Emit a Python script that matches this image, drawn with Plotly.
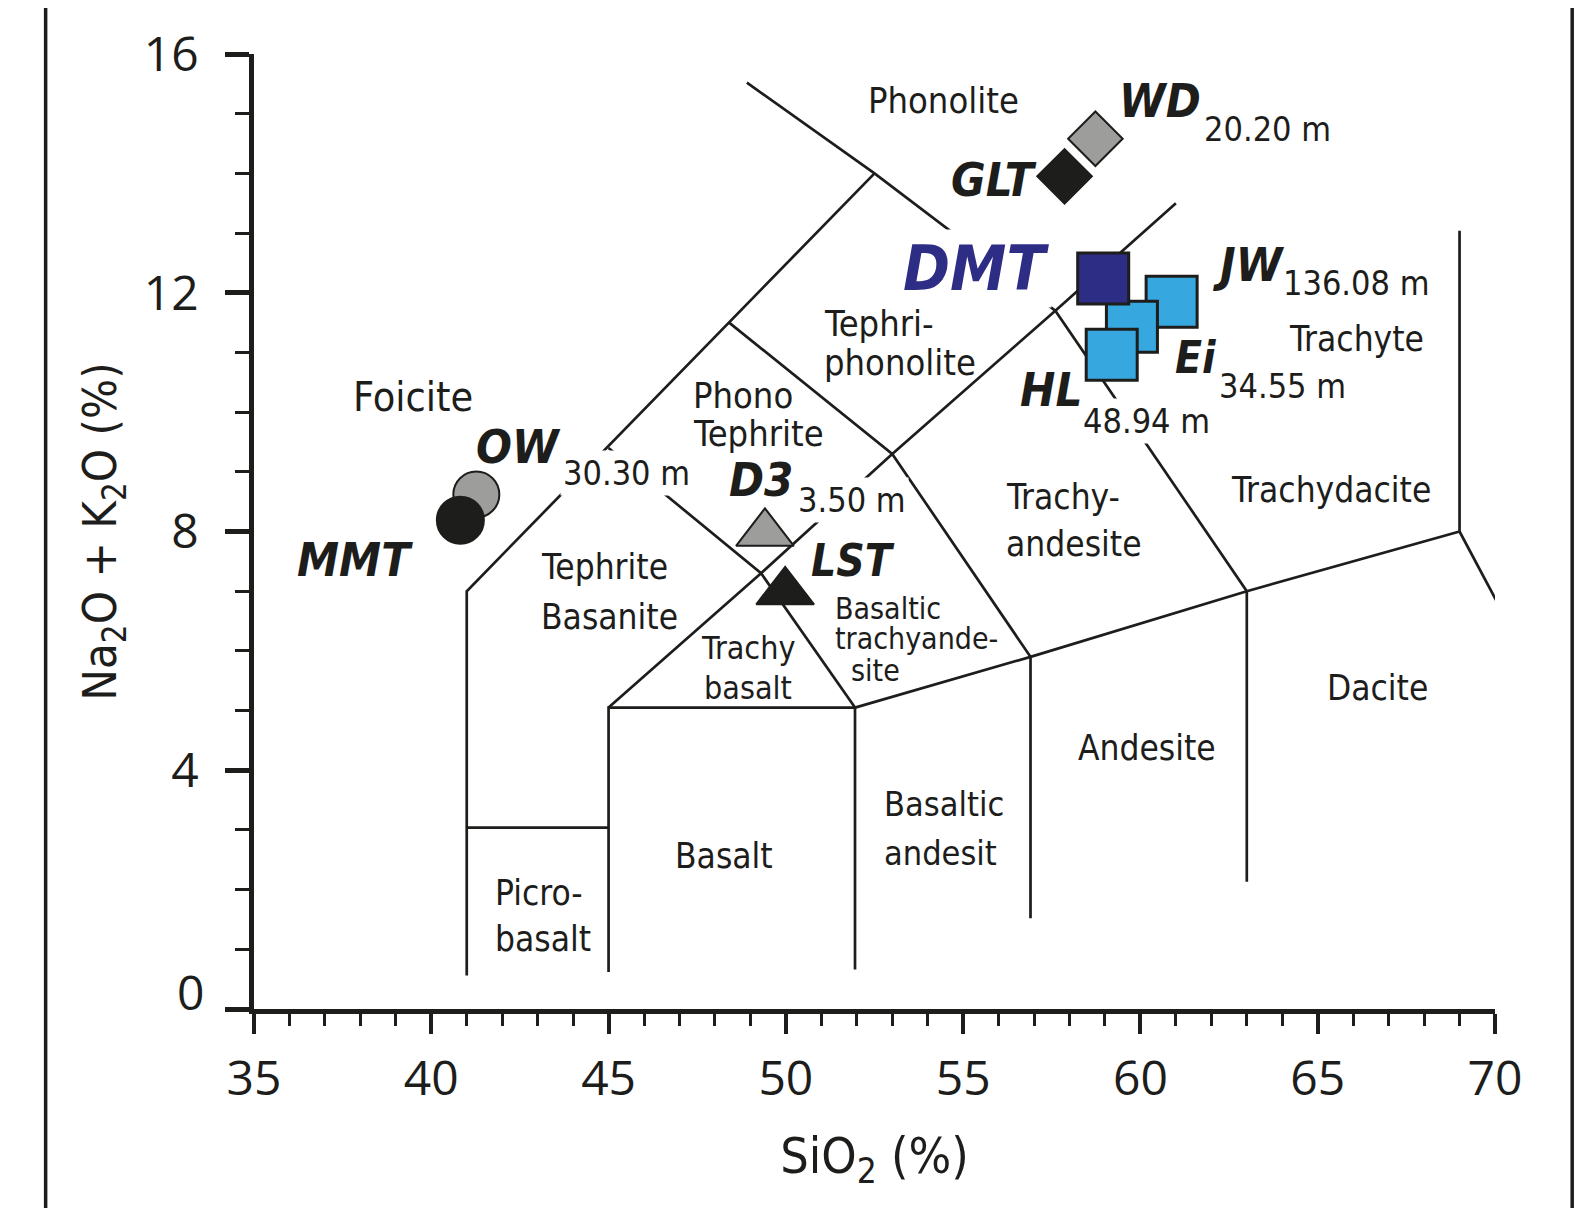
import plotly.graph_objects as go

# ---------------- data ----------------
samples = ["OW", "MMT", "D3", "LST", "WD", "GLT", "JW", "Ei", "HL", "DMT"]
sio2 = [41.27, 40.82, 49.41, 49.98, 58.73, 57.86, 60.88, 59.76, 59.19, 58.95]
alkali = [8.62, 8.19, 7.97, 6.99, 14.58, 13.95, 11.85, 11.43, 10.96, 12.24]

depth_samples = ["OW", "D3", "WD", "JW", "Ei", "HL"]
depth_labels = ["30.30 m", "3.50 m", "20.20 m", "136.08 m", "34.55 m", "48.94 m"]

# TAS classification boundaries (SiO2, Na2O+K2O), None separates polylines
bnd_x = [41, 41, 52.5, None,
         48.9, 52.5, 57.6, 63, 63, None,
         41, 45, None,
         45, 45, 51.95, None,
         51.95, 51.95, None,
         45, 49.3, 53, 57.6, 61, None,
         45, 49.3, 51.95, None,
         48.4, 53, 56.9, 56.9, None,
         51.95, 56.9, 63, 69, 69, None,
         69, 70.03]
bnd_y = [0.56, 7.0, 14.0, None,
         15.52, 14.0, 11.7, 7.0, 2.13, None,
         3.04, 3.04, None,
         0.62, 5.05, 5.05, None,
         0.66, 5.05, None,
         5.05, 7.3, 9.3, 11.7, 13.5, None,
         9.4, 7.3, 5.05, None,
         11.5, 9.3, 5.9, 1.52, None,
         5.05, 5.9, 7.0, 8.0, 13.04, None,
         8.0, 6.85]

region_names = ["Phonolite", "Tephri-", "phonolite", "Phono", "Tephrite", "Foicite",
                "Tephrite", "Basanite", "Trachy", "basalt", "Basaltic", "trachyande-",
                "site", "Trachy-", "andesite", "Trachyte", "Trachydacite", "Dacite",
                "Andesite", "Basaltic", "andesit", "Basalt", "Picro-", "basalt"]

x_ticks = [35, 40, 45, 50, 55, 60, 65, 70]
y_ticks = [0, 4, 8, 12, 16]

# ---------------- styles / layout ----------------
INK = "#1d1d1b"
NAVY = "#2e2d86"
LIGHTBLUE = "#36a8df"
GREY = "#9d9d9c"
NARROW = "DejaVu Sans Condensed, Liberation Sans Narrow, sans-serif"
REG = "Open Sans, Liberation Sans, sans-serif"

marker_style = {
    "OW": dict(symbol="circle", size=46, color=GREY, line=dict(color=INK, width=2)),
    "MMT": dict(symbol="circle", size=47, color=INK, line=dict(color=INK, width=2)),
    "D3": dict(symbol="triangle-up", size=50, color=GREY, line=dict(color=INK, width=2)),
    "LST": dict(symbol="triangle-up", size=50, color=INK, line=dict(color=INK, width=2)),
    "WD": dict(symbol="diamond", size=42, color=GREY, line=dict(color=INK, width=2)),
    "GLT": dict(symbol="diamond", size=42, color=INK, line=dict(color=INK, width=2)),
    "JW": dict(symbol="square", size=51, color=LIGHTBLUE, line=dict(color=INK, width=3)),
    "Ei": dict(symbol="square", size=51, color=LIGHTBLUE, line=dict(color=INK, width=3)),
    "HL": dict(symbol="square", size=51, color=LIGHTBLUE, line=dict(color=INK, width=3)),
    "DMT": dict(symbol="square", size=51, color=NAVY, line=dict(color=INK, width=3)),
}

# label positions (data coords) for sample names and depths
name_pos = {"WD": (60.56, 15.22), "GLT": (55.87, 13.90), "DMT": (55.37, 12.40),
            "JW": (63.04, 12.47), "Ei": (61.57, 10.92), "HL": (57.47, 10.38),
            "OW": (42.47, 9.43), "D3": (49.30, 8.87), "LST": (51.90, 7.51),
            "MMT": (37.86, 7.53)}
name_size = {"DMT": 63, "Ei": 44, "LST": 44}
depth_pos = {"WD": (63.59, 14.74), "JW": (66.09, 12.17), "Ei": (64.01, 10.44),
             "HL": (60.18, 9.85), "OW": (45.51, 8.98), "D3": (51.86, 8.53)}
depth_bg = {"OW", "D3", "HL"}

# region label placement: (x, y, size, xanchor)
region_pos = [(54.45, 15.22, 36, "center"), (51.01, 11.49, 36, "left"), (51.01, 10.83, 36, "left"),
              (47.33, 10.28, 36, "left"), (47.33, 9.65, 36, "left"), (39.48, 10.25, 41, "center"),
              (43.05, 7.41, 35, "left"), (43.05, 6.57, 35, "left"), (48.93, 6.04, 32, "center"),
              (48.93, 5.37, 32, "center"), (51.34, 6.71, 30, "left"), (51.34, 6.20, 30, "left"),
              (51.79, 5.67, 30, "left"), (56.16, 8.57, 35, "left"), (56.16, 7.79, 35, "left"),
              (66.10, 11.23, 35, "center"), (65.38, 8.70, 35, "center"), (66.69, 5.37, 35, "center"),
              (60.19, 4.37, 35, "center"), (52.71, 3.43, 34, "left"), (52.71, 2.62, 34, "left"),
              (48.26, 2.56, 35, "center"), (41.74, 1.95, 35, "left"), (41.74, 1.17, 35, "left")]

fig = go.Figure()

fig.add_trace(go.Scatter(x=bnd_x, y=bnd_y, mode="lines", line=dict(color=INK, width=2.7),
                         hoverinfo="skip", showlegend=False, name="TAS boundaries"))

for name, xv, yv in zip(samples, sio2, alkali):
    fig.add_trace(go.Scatter(x=[xv], y=[yv], mode="markers", name=name,
                             marker=marker_style[name], showlegend=False, cliponaxis=False))

annotations = []
for name in samples:
    x, y = name_pos[name]
    annotations.append(dict(
        text=name, x=x, y=y, xref="x", yref="y", showarrow=False,
        xanchor="center", yanchor="middle",
        font=dict(family=NARROW, size=name_size.get(name, 47),
                  color=NAVY if name == "DMT" else INK, weight="bold", style="italic"),
        bgcolor="white" if name == "DMT" else "rgba(0,0,0,0)", borderpad=2))

for name, lab in zip(depth_samples, depth_labels):
    x, y = depth_pos[name]
    annotations.append(dict(
        text=lab, x=x, y=y, xref="x", yref="y", showarrow=False,
        xanchor="center", yanchor="middle",
        font=dict(family=NARROW, size=34, color=INK),
        bgcolor="white" if name in depth_bg else "rgba(0,0,0,0)", borderpad=2))

for txt, (x, y, s, xa) in zip(region_names, region_pos):
    annotations.append(dict(
        text=txt, x=x, y=y, xref="x", yref="y", showarrow=False,
        xanchor=xa, yanchor="middle",
        font=dict(family=NARROW, size=s, color=INK)))

# the "0" label sits slightly above its tick in the original
annotations.append(dict(text=str(y_ticks[0]), x=-0.0387, y=y_ticks[0], xref="paper", yref="y",
                        yshift=18, showarrow=False, xanchor="right", yanchor="middle",
                        font=dict(family=REG, size=48, color=INK)))

fig.update_layout(
    width=1575, height=1200,
    margin=dict(l=246, r=88, t=41, b=199),
    paper_bgcolor="white", plot_bgcolor="white",
    showlegend=False,
    annotations=annotations,
    shapes=[
        dict(type="line", xref="paper", yref="paper", x0=-0.1679, x1=-0.1679, y0=-0.3, y1=1.1,
             line=dict(color=INK, width=3.5)),
        dict(type="line", xref="paper", yref="paper", x0=1.0622, x1=1.0622, y0=-0.3, y1=1.1,
             line=dict(color=INK, width=3.5)),
    ],
)

fig.update_xaxes(
    range=[35, 70], tickmode="array", tickvals=x_ticks, ticktext=[str(v) for v in x_ticks],
    ticks="outside", ticklen=20, tickwidth=4, tickcolor=INK,
    showline=True, linewidth=4.5, linecolor=INK, showgrid=False, zeroline=False,
    tickfont=dict(family=REG, size=48, color=INK), ticklabelstandoff=4,
    minor=dict(ticks="outside", tickmode="linear", tick0=35, dtick=1, ticklen=12,
               tickwidth=3, tickcolor=INK, showgrid=False),
    title=dict(text="SiO<sub>2</sub> (%)", font=dict(family=NARROW, size=50, color=INK), standoff=31),
)
fig.update_yaxes(
    range=[0, 16], tickmode="array", tickvals=y_ticks,
    ticktext=[""] + [str(v) for v in y_ticks[1:]],
    ticks="outside", ticklen=24, tickwidth=4.5, tickcolor=INK,
    showline=True, linewidth=4.5, linecolor=INK, showgrid=False, zeroline=False,
    tickfont=dict(family=REG, size=48, color=INK), ticklabelstandoff=17,
    minor=dict(ticks="outside", tickmode="linear", tick0=0, dtick=1, ticklen=14,
               tickwidth=3, tickcolor=INK, showgrid=False),
    title=dict(text="Na<sub>2</sub>O + K<sub>2</sub>O (%)", font=dict(family=NARROW, size=47, color=INK),
               standoff=14),
)

fig.write_html("out.html")
